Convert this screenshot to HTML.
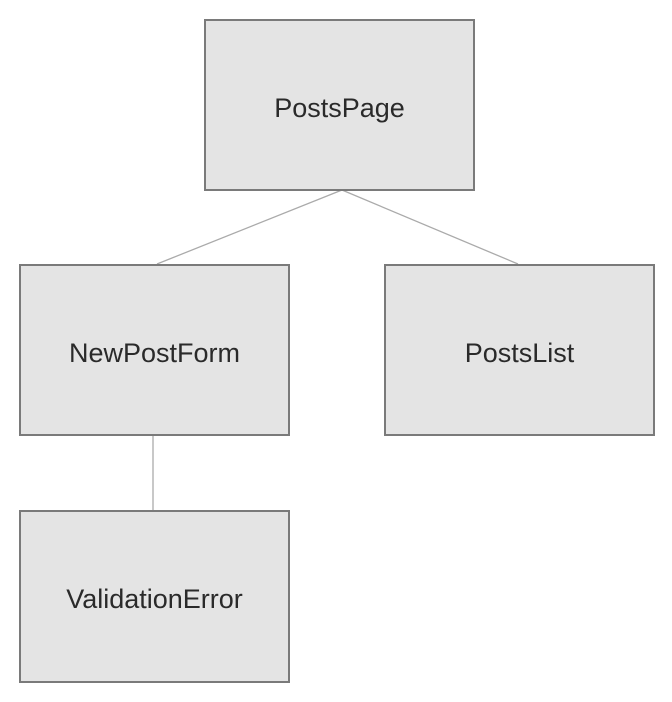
<!DOCTYPE html>
<html><head><style>
body{margin:0;width:672px;height:702px;background:#fff;position:relative;font-family:"Liberation Sans",sans-serif;overflow:hidden}
.b{position:absolute;box-sizing:border-box;border:2px solid #7a7a7a;background:#e4e4e4;display:flex;align-items:center;justify-content:center;font-size:27px;color:#2a2a2a;padding-top:6px}
</style></head><body>
<svg width="672" height="702" style="position:absolute;left:0;top:0">
<line x1="342" y1="190" x2="157" y2="264" stroke="#aaa" stroke-width="1.3"/>
<line x1="342" y1="190" x2="518" y2="264" stroke="#aaa" stroke-width="1.3"/>
<line x1="153" y1="435" x2="153" y2="510" stroke="#aaa" stroke-width="1.3"/>
</svg>
<div class="b" style="left:204px;top:19px;width:271px;height:172px">PostsPage</div>
<div class="b" style="left:19px;top:264px;width:271px;height:172px">NewPostForm</div>
<div class="b" style="left:384px;top:264px;width:271px;height:172px">PostsList</div>
<div class="b" style="left:19px;top:510px;width:271px;height:173px">ValidationError</div>
</body></html>
